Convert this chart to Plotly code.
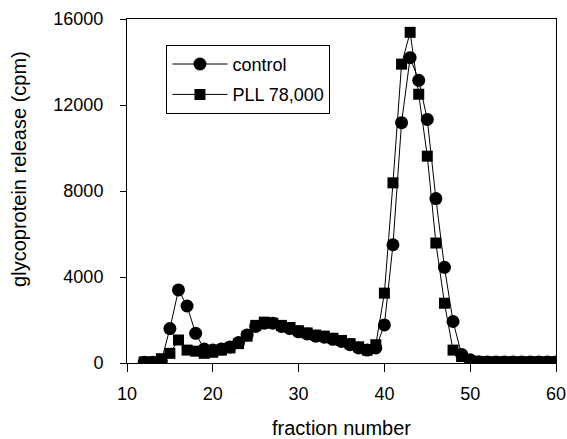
import plotly.graph_objects as go

fractions = list(range(12, 61))

control = [30, 30, 100, 1600, 3400, 2650, 1380, 650, 600, 650,
           750, 950, 1300, 1700, 1850, 1850, 1700, 1600, 1450, 1350,
           1250, 1200, 1100, 1000, 850, 700, 600, 700, 1770, 5500,
           11180, 14200, 13150, 11330, 7650, 4450, 1930, 400, 150, 60,
           50, 50, 50, 50, 50, 50, 50, 50, 50]

pll = [50, 50, 200, 450, 1070, 600, 550, 450, 500, 600,
       700, 900, 1250, 1750, 1900, 1850, 1750, 1650, 1500, 1400,
       1300, 1250, 1150, 1050, 900, 750, 600, 850, 3250, 8380,
       13900, 15380, 12500, 9620, 5580, 2780, 600, 300, 100, 60,
       50, 50, 50, 50, 50, 50, 50, 50, 50]

x_ticks = [10, 20, 30, 40, 50, 60]
y_ticks = [0, 4000, 8000, 12000, 16000]
y_tick_labels = ["0", "4000", "8000", "12000", "16000"]

font_family = "Liberation Sans, Arial, sans-serif"

fig = go.Figure()
fig.add_trace(go.Scatter(
    x=fractions, y=control, name="control", mode="lines+markers",
    line=dict(color="black", width=1),
    marker=dict(symbol="circle", size=13, color="black"),
    legendgroup="a",
))
fig.add_trace(go.Scatter(
    x=fractions, y=pll, name="PLL 78,000", mode="lines+markers",
    line=dict(color="black", width=1),
    marker=dict(symbol="square", size=11, color="black"),
    legendgroup="b",
))

fig.update_layout(
    template="none",
    width=567, height=439,
    margin=dict(l=127, r=11, t=19, b=76),
    paper_bgcolor="white", plot_bgcolor="white",
    font=dict(family=font_family, color="black", size=18),
    showlegend=True,
    legend=dict(
        x=0.092, y=0.925, xanchor="left", yanchor="top",
        bordercolor="black", borderwidth=1, bgcolor="white",
        font=dict(size=18), traceorder="grouped", tracegroupgap=4,
        itemwidth=55,
    ),
    xaxis=dict(
        range=[10, 60], tickvals=x_ticks, ticks="outside", ticklen=8,
        tickcolor="black", showline=True, linecolor="black", linewidth=1,
        mirror=True, showgrid=False, zeroline=False, automargin=False,
        title=dict(text="fraction number", font=dict(size=20), standoff=18),
        tickfont=dict(size=18), ticklabelstandoff=6,
    ),
    yaxis=dict(
        range=[0, 16000], tickvals=y_ticks, ticktext=y_tick_labels,
        ticks="outside", ticklen=6,
        tickcolor="black", showline=True, linecolor="black", linewidth=1,
        mirror=True, showgrid=False, zeroline=False, automargin=False,
        tickfont=dict(size=18), ticklabelstandoff=13,
    ),
    annotations=[dict(
        text="glycoprotein release (cpm)", textangle=-90,
        xref="paper", yref="paper", x=-0.252, y=0.564,
        xanchor="center", yanchor="middle", showarrow=False,
        font=dict(size=20),
    )],
)

fig.write_html(
    "out.html",
    config={"displayModeBar": False},
    post_script="document.body.style.margin='0';document.body.style.overflow='hidden';",
)
